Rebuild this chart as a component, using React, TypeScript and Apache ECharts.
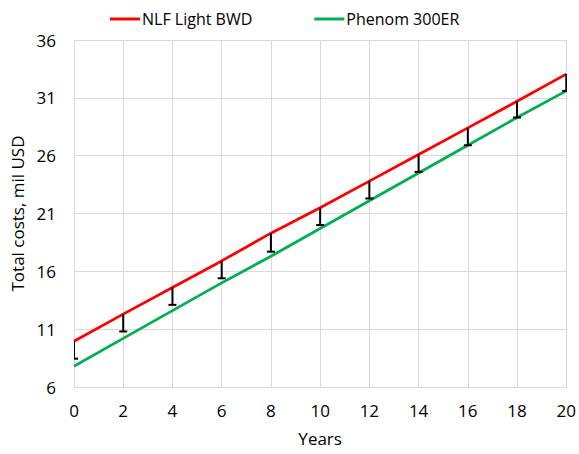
import React, { useEffect, useRef } from "react";
import * as echarts from "echarts";

const years = [0, 2, 4, 6, 8, 10, 12, 14, 16, 18, 20];
const nlfLightBwd = [9.95, 12.3, 14.6, 16.9, 19.3, 21.5, 23.8, 26.1, 28.4, 30.7, 33.05];
const phenom300er = [7.8, 10.2, 12.6, 15.0, 17.3, 19.7, 22.1, 24.5, 26.9, 29.3, 31.6];
const errorLow = [8.45, 10.8, 13.1, 15.4, 17.7, 20.0, 22.3, 24.6, 26.9, 29.3, 31.6];
const yTickLabels = ["6", "11", "16", "21", "26", "31", "36"];

const Y_BASE = 6;
const FONT = "'Open Sans', 'Noto Sans', sans-serif";

export default function App() {
  const ref = useRef<HTMLDivElement>(null);
  useEffect(() => {
    if (!ref.current) return;
    const chart = echarts.init(ref.current, null, { renderer: "svg" });
    const shift = (arr: number[]) => arr.map((v, i) => [years[i], v - Y_BASE]);
    const errData = years.map((x, i) => [x, nlfLightBwd[i] - Y_BASE, errorLow[i] - Y_BASE]);
    chart.setOption({
      animation: false,
      textStyle: { fontFamily: FONT },
      legend: {
        top: 6,
        left: 105,
        itemWidth: 30,
        itemHeight: 3,
        itemGap: 62,
        icon: "rect",
        textStyle: { fontSize: 16, color: "#000", fontFamily: FONT, padding: [0, 0, 0, -3] },
        data: [
          { name: "NLF Light BWD", itemStyle: { color: "#ff0000" } },
          { name: "Phenom 300ER", itemStyle: { color: "#00b050" } },
        ],
      },
      grid: { left: 74, right: 10, top: 40, bottom: 67 },
      xAxis: {
        type: "value",
        min: 0,
        max: 20,
        interval: 2,
        name: "Years",
        nameLocation: "middle",
        nameGap: 43,
        nameTextStyle: { fontSize: 17, color: "#000", fontFamily: FONT },
        axisLine: { show: true, lineStyle: { color: "#d9d9d9", width: 1 } },
        axisTick: { show: false },
        axisLabel: { fontSize: 17, color: "#000", margin: 15, fontFamily: FONT },
        splitLine: { show: true, lineStyle: { color: "#d9d9d9", width: 1 } },
      },
      yAxis: {
        type: "value",
        min: 0,
        max: 30,
        interval: 5,
        name: "Total costs, mil USD",
        nameLocation: "middle",
        nameGap: 48,
        nameTextStyle: { fontSize: 17, color: "#000", fontFamily: FONT },
        axisLine: { show: true, lineStyle: { color: "#d9d9d9", width: 1 } },
        axisTick: { show: false },
        axisLabel: {
          fontSize: 17,
          color: "#000",
          margin: 18,
          fontFamily: FONT,
          formatter: (v: number) => yTickLabels[Math.round(v / 5)] ?? String(v + Y_BASE),
        },
        splitLine: { show: true, lineStyle: { color: "#d9d9d9", width: 1 } },
      },
      series: [
        {
          name: "NLF Light BWD",
          type: "line",
          data: shift(nlfLightBwd),
          showSymbol: false,
          symbol: "none",
          lineStyle: { color: "#ff0000", width: 2.75 },
          itemStyle: { color: "#ff0000" },
          z: 3,
        },
        {
          name: "Phenom 300ER",
          type: "line",
          data: shift(phenom300er),
          showSymbol: false,
          symbol: "none",
          lineStyle: { color: "#00b050", width: 2.75 },
          itemStyle: { color: "#00b050" },
          z: 3,
        },
        {
          name: "error",
          type: "custom",
          clip: true,
          z: 4,
          data: errData,
          renderItem: (params: any, api: any) => {
            const top = api.coord([api.value(0), api.value(1)]);
            const bot = api.coord([api.value(0), api.value(2)]);
            const cap = 4;
            return {
              type: "group",
              children: [
                {
                  type: "line",
                  shape: { x1: top[0], y1: top[1], x2: bot[0], y2: bot[1] },
                  style: { stroke: "#000", lineWidth: 2 },
                },
                {
                  type: "line",
                  shape: { x1: bot[0] - cap, y1: bot[1], x2: bot[0] + cap, y2: bot[1] },
                  style: { stroke: "#000", lineWidth: 2 },
                },
              ],
            };
          },
        },
      ],
    });
    return () => chart.dispose();
  }, []);
  return <div ref={ref} style={{ width: 579, height: 454, position: "absolute", left: 0, top: 0 }} />;
}
